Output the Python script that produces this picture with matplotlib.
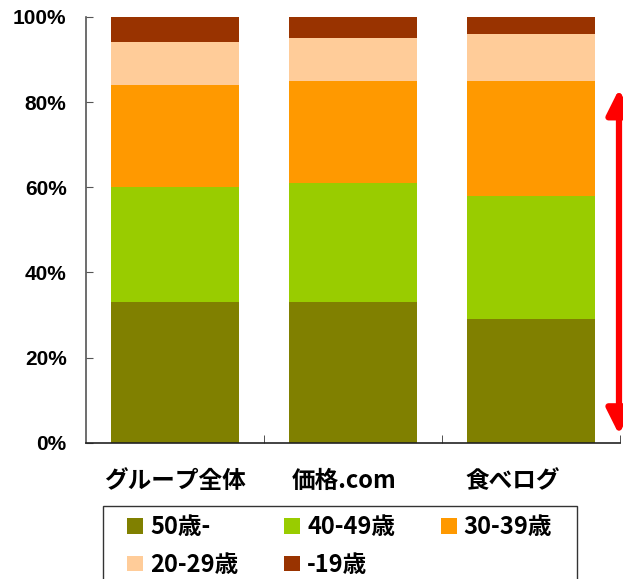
import numpy as np
import matplotlib.pyplot as plt
import matplotlib.transforms as mtransforms
from matplotlib.patches import Patch, Rectangle
from matplotlib.ticker import PercentFormatter

plt.rcParams['font.family'] = ['Noto Sans CJK JP', 'DejaVu Sans']
plt.rcParams['font.weight'] = 'bold'

# データ
categories = ['グループ全体', '価格.com', '食べログ']
age_labels = ['50歳-', '40-49歳', '30-39歳', '20-29歳', '-19歳']
age_50 = [33, 33, 29]
age_40 = [27, 28, 29]
age_30 = [24, 24, 27]
age_20 = [10, 10, 11]
age_19 = [6, 5, 4]
series = [age_50, age_40, age_30, age_20, age_19]
colors = ['#808000', '#99CC00', '#FF9900', '#FFCC99', '#993300']

fig = plt.figure(figsize=(6.23, 5.79), dpi=100)
ax = fig.add_axes([0.138, 0.235, 0.857, 0.736])

x = np.arange(len(categories))
bottom = np.zeros(len(categories))
for vals, c in zip(series, colors):
    ax.bar(x, vals, bottom=bottom, width=0.72, color=c, edgecolor='none')
    bottom += np.array(vals)

ax.set_xlim(-0.5, 2.5)
ax.set_ylim(0, 100)
ax.yaxis.set_major_formatter(PercentFormatter(decimals=0))
ax.set_yticks([0, 20, 40, 60, 80, 100])
ax.set_xticks(x)
ax.set_xticklabels(categories, fontsize=17, fontweight='bold')
ax.set_xticks([0.5, 1.5, 2.5], minor=True)
ax.tick_params(axis='x', which='major', length=0, pad=19)
ax.tick_params(axis='x', which='minor', direction='in', length=6, color='#333333')
ax.tick_params(axis='y', direction='in', length=5, color='#555555', labelsize=15, pad=14)
for lab in ax.get_yticklabels():
    lab.set_fontfamily(['Liberation Sans', 'DejaVu Sans'])
    lab.set_fontweight('bold')

# ラベル位置を少し左へ
shifts = [0, -9, -18]
for lab, dx in zip(ax.get_xticklabels(), shifts):
    lab.set_transform(lab.get_transform() + mtransforms.ScaledTranslation(dx / 100, 0, fig.dpi_scale_trans))

for s in ['top', 'right']:
    ax.spines[s].set_visible(False)
ax.spines['left'].set_color('#555555')
ax.spines['left'].set_linewidth(1.2)
ax.spines['bottom'].set_color('#222222')
ax.spines['bottom'].set_linewidth(1.2)

# 赤い矢印
ax.annotate('', xy=(2.495, 83), xytext=(2.495, 2),
            arrowprops=dict(arrowstyle='<|-|>', color='red', lw=4.5,
                            mutation_scale=38, shrinkA=0, shrinkB=0),
            annotation_clip=False)

# 凡例の枠
fig.patches.append(Rectangle((103 / 623, -0.05), (577 - 103) / 623, 0.05 + (579 - 506) / 579,
                             transform=fig.transFigure, fill=False,
                             edgecolor='#333333', linewidth=1.0))

# 凡例 (行ごとに並べる)
handles = [Patch(facecolor=c, edgecolor='none') for c in colors]
order = [0, 3, 1, 4, 2]
leg = fig.legend([handles[i] for i in order], [age_labels[i] for i in order],
                 ncol=3, loc='upper left', bbox_to_anchor=(127 / 623, 1 - 515 / 579),
                 fontsize=17, frameon=False, borderpad=0, borderaxespad=0,
                 handlelength=0.68, handleheight=0.65, handletextpad=0.3,
                 columnspacing=1.93, labelspacing=0.58)
for t in leg.get_texts():
    t.set_fontweight('bold')

fig.savefig('out.png', dpi=100)
